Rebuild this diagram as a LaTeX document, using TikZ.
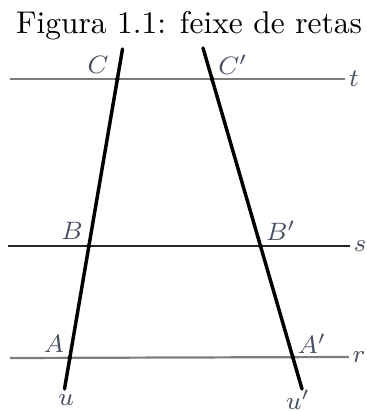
\documentclass[tikz,border=0pt]{standalone}
\usepackage{xcolor}
\usepackage{tikz}
\usetikzlibrary{calc}
\definecolor{rotulocor}{RGB}{72, 80, 102}
\definecolor{linhacinza}{RGB}{125, 125, 125}

\begin{document}
\begin{tikzpicture}[
    x=0.318pt, y=-0.318pt,
    font=\fontsize{8.5}{9.5}\selectfont,
    rotulo/.style={text=rotulocor, inner sep=1pt},
    paralela/.style={linhacinza, line width=0.7pt},
    transversal/.style={black, line width=1.1pt, line cap=round},
    ponto/.style={circle, fill=black, inner sep=0pt, minimum size=1.4pt}
  ]
    \useasboundingbox (0,0) rectangle (366,412);
    \node[anchor=base, font=\normalsize] (titulo) at (189,34) {Figura 1.1: feixe de retas};

    % retas paralelas t, s, r
    \node[rotulo] (rt) at (354,79)  {$t$};
    \node[rotulo] (rs) at (360,246) {$s$};
    \node[rotulo] (rr) at (359,357) {$r$};
    \coordinate (tL) at (10,79);
    \coordinate (sL) at (8,246);
    \coordinate (rL) at (10,358);
    \draw[paralela] (tL) -- (rt.west);
    \draw[paralela, black!85, line width=0.5pt] (sL) -- (rs.west);
    \draw[paralela] (rL) -- (rr.west);

    % transversais u e u'
    \coordinate (uTop) at (122.5,49);
    \coordinate (uBot) at (64.5,389);
    \coordinate (vTop) at (203,48);
    \coordinate (vBot) at (302,389);
    \draw[transversal] (uTop) -- (uBot);
    \draw[transversal] (vTop) -- (vBot);
    \node[rotulo] (ru) at (66,400) {$u$};
    \node[rotulo] (rv) at (298,400) {$u'$};

    % pontos de intersecao
    \coordinate (C)  at (intersection of uTop--uBot and tL--rt.west);
    \coordinate (B)  at (intersection of uTop--uBot and sL--rs.west);
    \coordinate (A)  at (intersection of uTop--uBot and rL--rr.west);
    \coordinate (C') at (intersection of vTop--vBot and tL--rt.west);
    \coordinate (B') at (intersection of vTop--vBot and sL--rs.west);
    \coordinate (A') at (intersection of vTop--vBot and rL--rr.west);
    \foreach \p in {A,B,C,A',B',C'} \node[ponto] at (\p) {};

    \node[rotulo] (lC)  at (98,65)   {$C$};
    \node[rotulo] (lB)  at (72,231)  {$B$};
    \node[rotulo] (lA)  at (54,344)  {$A$};
    \node[rotulo] (lC') at (233,65)  {$C'$};
    \node[rotulo] (lB') at (281,231) {$B'$};
    \node[rotulo] (lA') at (312,344) {$A'$};
\end{tikzpicture}
\end{document}
